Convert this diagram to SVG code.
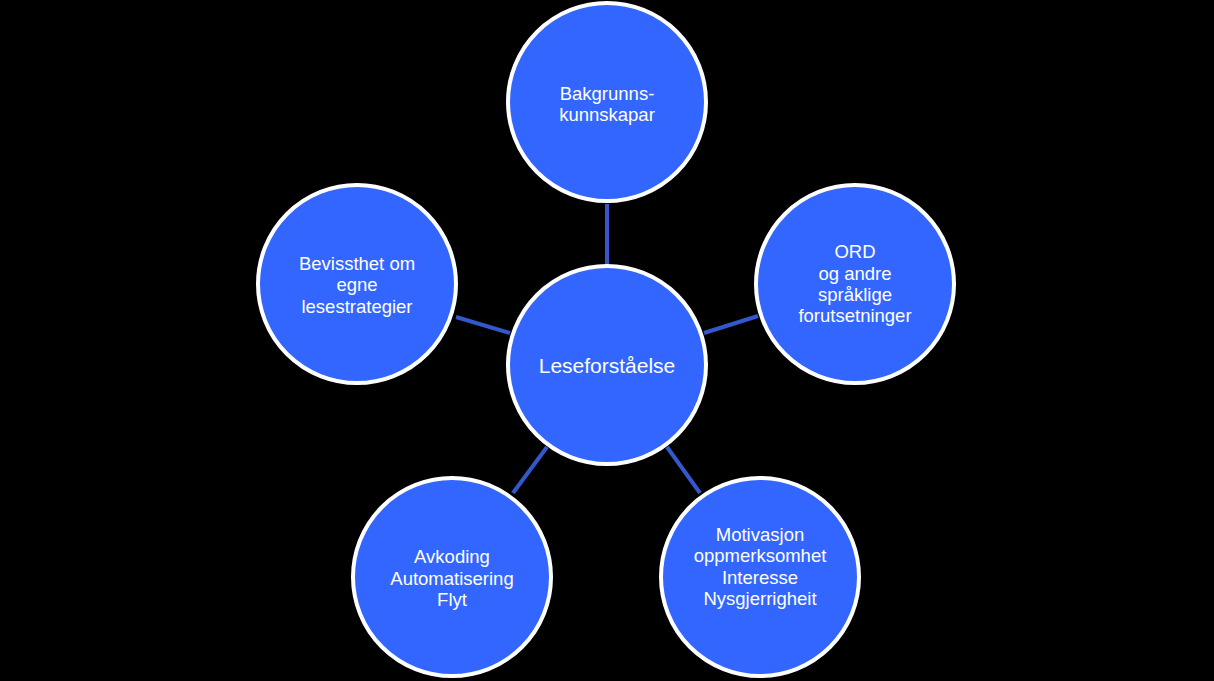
<svg xmlns="http://www.w3.org/2000/svg" width="1214" height="681" viewBox="0 0 1214 681">
<style>
.bg{fill:#000}
.node{fill:#3366FF;stroke:#FFFFFF;stroke-width:4}
.edge{stroke:#3358CC;stroke-width:4;fill:none}
.t{font-family:"Liberation Sans",Arial,sans-serif;font-size:18.5px;fill:#FFFFFF;text-anchor:middle}
.tc{font-size:21px}
</style>
<rect class="bg" x="0" y="0" width="1214" height="681"/>
<g id="connectors">
<line class="edge" x1="607" y1="204" x2="607" y2="264"/>
<line class="edge" x1="704" y1="333" x2="758" y2="316"/>
<line class="edge" x1="510" y1="333" x2="456" y2="317"/>
<line class="edge" x1="547" y1="447" x2="513" y2="493"/>
<line class="edge" x1="667" y1="447" x2="700" y2="493"/>
</g>
<g id="n-center">
<circle class="node" cx="607" cy="365" r="99"/>
<text class="t tc" x="607" y="373">Leseforståelse</text>
</g>
<g id="n-top">
<circle class="node" cx="607" cy="102" r="99"/>
<text class="t" x="607" y="100">Bakgrunns-</text>
<text class="t" x="607" y="121">kunnskapar</text>
</g>
<g id="n-right">
<circle class="node" cx="855" cy="284" r="99"/>
<text class="t" x="855" y="258">ORD</text>
<text class="t" x="855" y="279.5">og andre</text>
<text class="t" x="855" y="301">språklige</text>
<text class="t" x="855" y="322">forutsetninger</text>
</g>
<g id="n-left">
<circle class="node" cx="357" cy="284" r="99"/>
<text class="t" x="357" y="270">Bevissthet om</text>
<text class="t" x="357" y="291">egne</text>
<text class="t" x="357" y="312.5">lesestrategier</text>
</g>
<g id="n-bottomleft">
<circle class="node" cx="452" cy="577" r="99"/>
<text class="t" x="452" y="563">Avkoding</text>
<text class="t" x="452" y="584.5">Automatisering</text>
<text class="t" x="452" y="606">Flyt</text>
</g>
<g id="n-bottomright">
<circle class="node" cx="760" cy="577" r="99"/>
<text class="t" x="760" y="540.5">Motivasjon</text>
<text class="t" x="760" y="562">oppmerksomhet</text>
<text class="t" x="760" y="583.5">Interesse</text>
<text class="t" x="760" y="605">Nysgjerrigheit</text>
</g>
</svg>
